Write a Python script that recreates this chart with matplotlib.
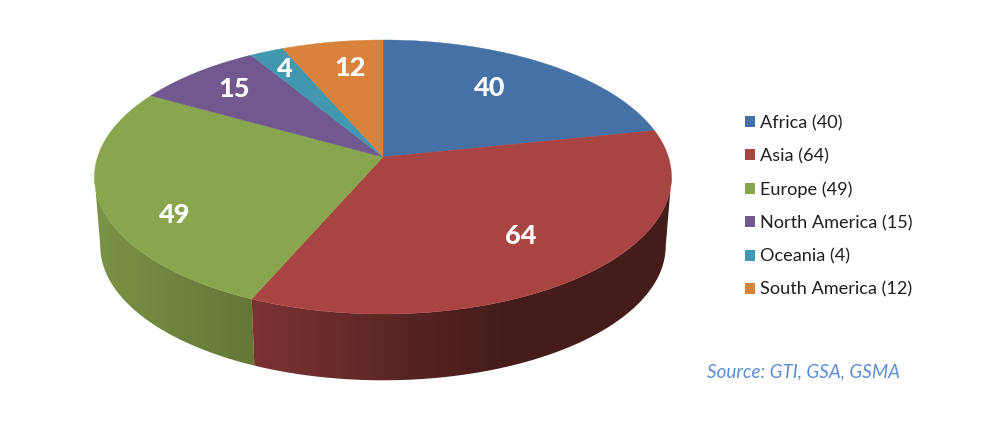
import numpy as np
import matplotlib
matplotlib.use('Agg')
import matplotlib.pyplot as plt
from matplotlib.colors import LinearSegmentedColormap
from matplotlib.patches import Patch, Polygon

plt.rcParams['font.family'] = ['Lato', 'DejaVu Sans']

regions = ['Africa', 'Asia', 'Europe', 'North America', 'Oceania', 'South America']
counts = [40, 64, 49, 15, 4, 12]
colors = ['#4571a7', '#a84442', '#89a54e', '#71588f', '#4198af', '#d9823c']

# where the value labels sit, in pixels
label_xy = [(488.5, 88), (520.5, 236), (173.5, 215), (234.5, 89), (283.5, 69), (350.5, 68)]

# perspective of the top disc, fitted on the picture
cx, cy = 383, 157
a, b, p = 285.4, 134.1, 0.146
# bottom rim is the top rim shrunk and moved down
scale_b, ell_cy, ell_cy_b = 0.98, 177, 246


def rim(t):
    u, v = np.sin(t), np.cos(t)
    d = 1 + p * v
    return cx + a * u / d, cy - b * v / d


def rim_bottom(t):
    x, y = rim(t)
    return cx + scale_b * (x - cx), ell_cy_b + scale_b * (y - ell_cy)


fig = plt.figure(figsize=(9.98, 4.4), dpi=100)
ax = fig.add_axes([0, 0, 1, 1])
ax.set_xlim(0, 998)
ax.set_ylim(440, 0)
ax.axis('off')

edges = np.concatenate([[0], np.cumsum(counts)]) / sum(counts) * 2 * np.pi
left_t = 2 * np.pi - np.arccos(-p)
right_t = np.arccos(-p)

# side walls, only asia and europe can be seen from the front
walls = [
    (2, edges[2], left_t, [(94, '#7b9347'), (170, '#70863e'), (265, '#627536')]),
    (1, right_t, edges[2], [(245, '#7c3331'), (330, '#6a2d2c'), (410, '#572423'),
                            (500, '#461d1b'), (672, '#441c1a')]),
]
for i, t0, t1, stops in walls:
    t = np.linspace(t0, t1, 200)
    xt, yt = rim(t)
    xb, yb = rim_bottom(t)
    pts = np.column_stack([np.r_[xt, xb[::-1]], np.r_[yt, yb[::-1]]])
    poly = Polygon(pts, closed=True, fc='none', ec='none')
    ax.add_patch(poly)
    x0, x1 = stops[0][0], stops[-1][0]
    pos = [(s[0] - x0) / (x1 - x0) for s in stops]
    cmap = LinearSegmentedColormap.from_list('wall', list(zip(pos, [s[1] for s in stops])))
    im = ax.imshow(np.linspace(0, 1, 256)[None, :], cmap=cmap, aspect='auto',
                   extent=(x0, x1, 390, 170), zorder=2)
    im.set_clip_path(poly)
ax.set_xlim(0, 998)
ax.set_ylim(440, 0)

# top faces
for i, c in enumerate(colors):
    t = np.linspace(edges[i], edges[i + 1], 120)
    x, y = rim(t)
    pts = np.column_stack([np.r_[cx, x], np.r_[cy, y]])
    ax.add_patch(Polygon(pts, closed=True, fc=c, ec=c, lw=0.3, zorder=3))

for (x, y), n in zip(label_xy, counts):
    ax.text(x, y, str(n), color='white', fontsize=19.5, fontweight=900,
            ha='center', va='center', zorder=4)

handles = [Patch(fc=c, ec='none', label='%s (%d)' % (r, n))
           for r, n, c in zip(regions, counts, colors)]
ax.legend(handles=handles, loc='upper left', bbox_to_anchor=(745 / 998, 1 - 115 / 440),
          frameon=False, fontsize=13.1, borderpad=0, borderaxespad=0, handlelength=0.55,
          handleheight=0.55, handletextpad=0.26, labelspacing=0.94, labelcolor='#1f1f1f')

ax.text(707, 372, 'Source: GTI, GSA, GSMA', color='#5b8ed6', fontsize=13.6,
        fontstyle='italic', ha='left', va='center')

fig.savefig('out.png', dpi=100)
